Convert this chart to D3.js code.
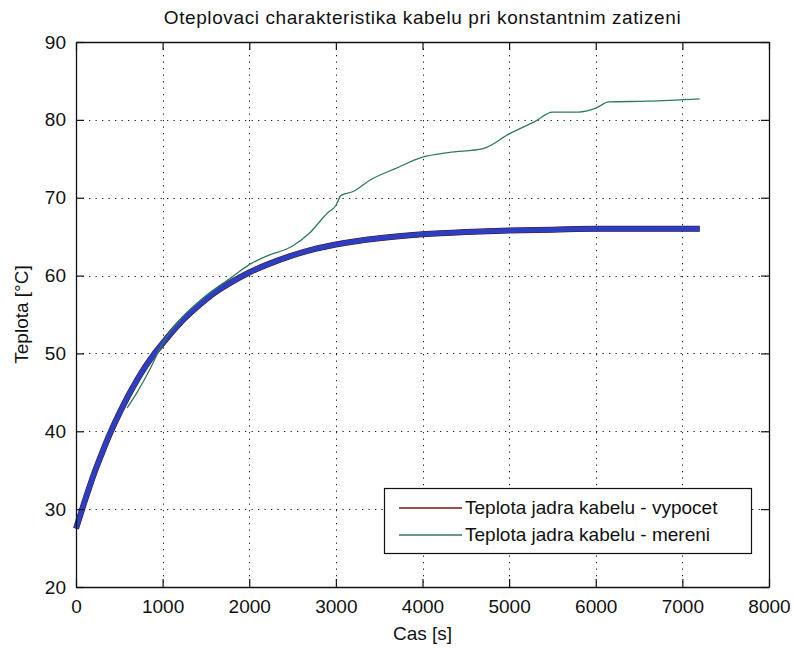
<!DOCTYPE html>
<html>
<head>
<meta charset="utf-8">
<script src="https://cdn.jsdelivr.net/npm/d3@7"></script>
<style>
  body { margin: 0; background: #fff; }
  text { font-family: "Liberation Sans", Arial, sans-serif; fill: #111; }
</style>
</head>
<body>
<svg id="chart" width="794" height="648"></svg>
<script>
// ---- data ----
const title = "Oteplovaci charakteristika kabelu pri konstantnim zatizeni";
const xLabel = "Cas [s]";
const yLabel = "Teplota [°C]";
const xTicks = [0, 1000, 2000, 3000, 4000, 5000, 6000, 7000, 8000];
const yTicks = [20, 30, 40, 50, 60, 70, 80, 90];
const legendLabels = ["Teplota jadra kabelu - vypocet", "Teplota jadra kabelu - mereni"];

// computed core temperature (vypocet)
const calcTime = [0, 100, 200, 300, 400, 500, 600, 700, 800, 900, 1000, 1200, 1400, 1600, 1800,
                  2000, 2250, 2500, 2750, 3000, 3500, 4000, 4500, 5000, 5500, 6000, 6500, 7200];
const calcTemp = [27.5, 31.0, 34.3, 37.2, 39.9, 42.3, 44.5, 46.5, 48.3, 49.9, 51.3, 53.9, 56.0, 57.8, 59.2,
                  60.4, 61.6, 62.6, 63.4, 64.0, 64.8, 65.3, 65.6, 65.8, 65.9, 66.0, 66.0, 66.0];

// measured core temperature (mereni)
const measTime = [590, 700, 855, 1000, 1200, 1500, 1800, 2000, 2200, 2500, 2700, 2900, 3000, 3060,
                  3200, 3400, 3700, 4000, 4300, 4700, 5000, 5300, 5500, 5800, 6000, 6150, 6600, 7200];
const measTemp = [43.0, 44.9, 48.0, 51.3, 54.3, 57.4, 59.8, 61.4, 62.5, 63.8, 65.5, 68.0, 69.0, 70.3,
                  70.8, 72.3, 73.8, 75.2, 75.8, 76.3, 78.2, 79.8, 81.0, 81.0, 81.5, 82.3, 82.4, 82.7];

// ---- layout ----
const svg = d3.select("#chart");
const mLeft = 76, mRight = 769, mTop = 42, mBottom = 587;
const x = d3.scaleLinear().domain([0, 8000]).range([mLeft, mRight]);
const y = d3.scaleLinear().domain([20, 90]).range([mBottom, mTop]);

// grid
const grid = svg.append("g").attr("stroke", "#222").attr("stroke-width", 1)
  .attr("stroke-dasharray", "1.3,5.2");
grid.selectAll(".gx").data(xTicks.slice(1, -1)).enter().append("line")
  .attr("x1", d => Math.round(x(d)) + 0.5).attr("x2", d => Math.round(x(d)) + 0.5)
  .attr("y1", mTop).attr("y2", mBottom);
grid.selectAll(".gy").data(yTicks.slice(1, -1)).enter().append("line")
  .attr("y1", d => Math.round(y(d)) + 0.5).attr("y2", d => Math.round(y(d)) + 0.5)
  .attr("x1", mLeft).attr("x2", mRight);

// lines
const line = d3.line().x(d => x(d[0])).y(d => y(d[1])).curve(d3.curveMonotoneX);
const calcData = calcTime.map((t, i) => [t, calcTemp[i]]);
const measData = measTime.map((t, i) => [t, measTemp[i]]);

svg.append("path").datum(calcData).attr("d", line)
  .attr("fill", "none").attr("stroke", "#4a1020").attr("stroke-width", 6);
svg.append("path").datum(calcData).attr("d", line)
  .attr("fill", "none").attr("stroke", "#2c3fc2").attr("stroke-width", 5);
svg.append("path").datum(measData).attr("d", line)
  .attr("fill", "none").attr("stroke", "#2f7a5c").attr("stroke-width", 1.3);

// axes (MATLAB style: box with inward ticks on all sides)
const tickLen = 8;
const fmt = d3.format("d");
const xAxisB = d3.axisBottom(x).tickValues(xTicks).tickFormat(fmt).tickSizeInner(-tickLen).tickSizeOuter(0).tickPadding(tickLen + 5);
const xAxisT = d3.axisTop(x).tickValues(xTicks).tickSizeInner(-tickLen).tickSizeOuter(0).tickFormat("");
const yAxisL = d3.axisLeft(y).tickValues(yTicks).tickFormat(fmt).tickSizeInner(-tickLen).tickSizeOuter(0).tickPadding(tickLen + 2);
const yAxisR = d3.axisRight(y).tickValues(yTicks).tickSizeInner(-tickLen).tickSizeOuter(0).tickFormat("");

function styleAxis(g) {
  g.selectAll("path").attr("stroke", "#111").attr("stroke-width", 1.3);
  g.selectAll("line").attr("stroke", "#111").attr("stroke-width", 1.2);
  g.selectAll("text").style("font-family", "'Liberation Sans', Arial, sans-serif")
    .style("font-size", "19px").attr("fill", "#111");
}
svg.append("g").attr("transform", `translate(0,${mBottom})`).call(xAxisB).call(styleAxis);
svg.append("g").attr("transform", `translate(0,${mTop})`).call(xAxisT).call(styleAxis);
svg.append("g").attr("transform", `translate(${mLeft},0)`).call(yAxisL).call(styleAxis);
svg.append("g").attr("transform", `translate(${mRight},0)`).call(yAxisR).call(styleAxis);

// titles
svg.append("text").attr("x", (mLeft + mRight) / 2).attr("y", 24).attr("text-anchor", "middle")
  .style("font-size", "19px").style("letter-spacing", "0.6px").text(title);
svg.append("text").attr("x", (mLeft + mRight) / 2).attr("y", 640).attr("text-anchor", "middle")
  .style("font-size", "19px").text(xLabel);
svg.append("text").attr("transform", `translate(28,${(mTop + mBottom) / 2}) rotate(-90)`)
  .attr("text-anchor", "middle").style("font-size", "19px").text(yLabel);

// legend
const lg = svg.append("g");
lg.append("rect").attr("x", 384.5).attr("y", 488.5).attr("width", 367).attr("height", 65)
  .attr("fill", "#fff").attr("stroke", "#111").attr("stroke-width", 1.2);
const legendColors = ["#7a1515", "#2f7a5c"];
legendLabels.forEach((lab, i) => {
  const yy = 508 + i * 27;
  lg.append("line").attr("x1", 399).attr("x2", 462).attr("y1", yy).attr("y2", yy)
    .attr("stroke", legendColors[i]).attr("stroke-width", 1.4);
  lg.append("text").attr("x", 465).attr("y", yy + 6).style("font-size", "19px").text(lab);
});
</script>
</body>
</html>
